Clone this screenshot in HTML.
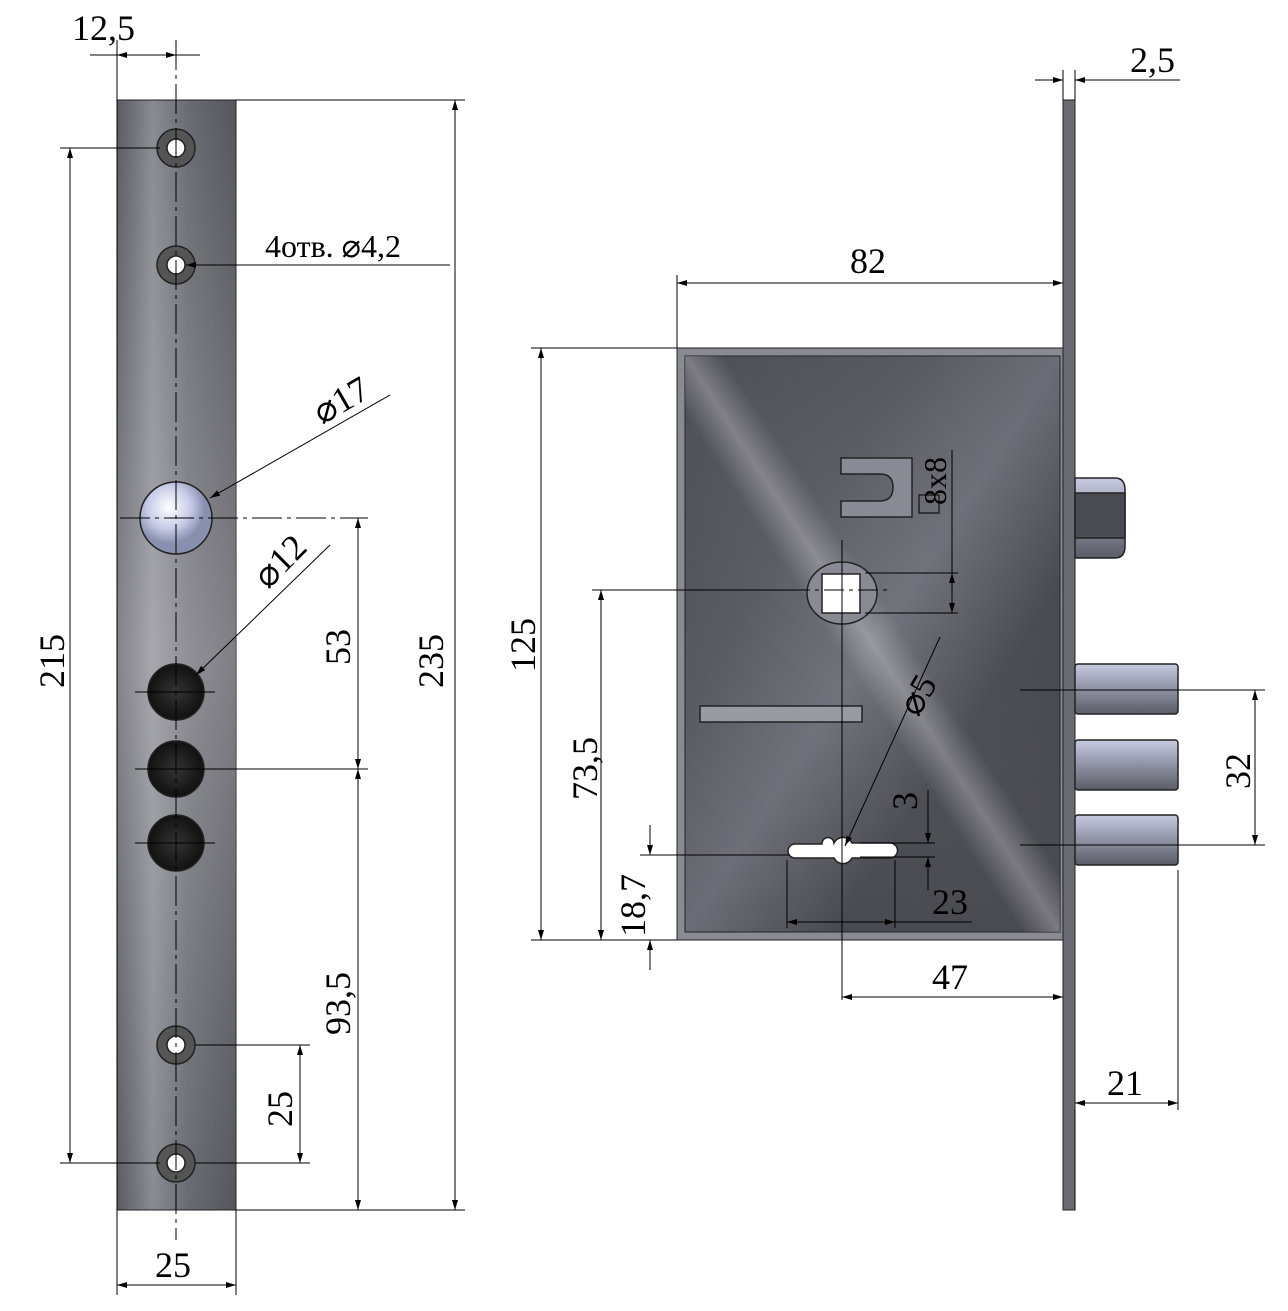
<!DOCTYPE html>
<html><head><meta charset="utf-8"><style>
html,body{margin:0;padding:0;background:#fff}
svg{display:block}
</style></head><body>
<svg width="1288" height="1311" viewBox="0 0 1288 1311" xmlns="http://www.w3.org/2000/svg">
<defs>
<linearGradient id="plate" x1="0" x2="1" y1="0" y2="0">
<stop offset="0" stop-color="#5a5a62"/><stop offset="0.3" stop-color="#8a8a92"/><stop offset="0.6" stop-color="#6a6a72"/><stop offset="1" stop-color="#55555c"/></linearGradient>
<linearGradient id="plateV" x1="0" x2="0" y1="0" y2="1">
<stop offset="0" stop-color="#fff" stop-opacity="0"/><stop offset="0.5" stop-color="#fff" stop-opacity="0.25"/><stop offset="1" stop-color="#fff" stop-opacity="0"/></linearGradient>
<linearGradient id="case" x1="0" y1="0" x2="1" y2="1">
<stop offset="0" stop-color="#44444c"/><stop offset="0.3" stop-color="#55555d"/><stop offset="0.5" stop-color="#6c6c76"/><stop offset="0.7" stop-color="#46464e"/><stop offset="1" stop-color="#404047"/></linearGradient>
<linearGradient id="case2" x1="1" y1="0" x2="0" y2="1">
<stop offset="0" stop-color="#fff" stop-opacity="0"/><stop offset="0.45" stop-color="#fff" stop-opacity="0.05"/><stop offset="0.5" stop-color="#fff" stop-opacity="0.3"/><stop offset="0.55" stop-color="#fff" stop-opacity="0.05"/><stop offset="1" stop-color="#fff" stop-opacity="0"/></linearGradient>
<linearGradient id="bolt" x1="0" x2="0" y1="0" y2="1">
<stop offset="0" stop-color="#c8cbe0"/><stop offset="0.4" stop-color="#9a9db0"/><stop offset="1" stop-color="#5a5c66"/></linearGradient>
<radialGradient id="dark"><stop offset="0" stop-color="#333"/><stop offset="1" stop-color="#111"/></radialGradient>
<radialGradient id="ball" cx="0.4" cy="0.35"><stop offset="0" stop-color="#fff"/><stop offset="0.6" stop-color="#c8cbe8"/><stop offset="1" stop-color="#8890b0"/></radialGradient>
<marker id="a" viewBox="0 0 10 6" refX="10" refY="3" markerWidth="14" markerHeight="6" orient="auto-start-reverse" markerUnits="userSpaceOnUse"><path d="M0,0L10,3L0,6z" fill="#000"/></marker>
</defs>

<rect x="117" y="100" width="119" height="1110" fill="url(#plate)" stroke="#222"/>
<rect x="117" y="100" width="119" height="1110" fill="url(#plateV)"/>
<g stroke="#222" stroke-width="1.5">
<circle cx="176" cy="148" r="19" fill="#555"/><circle cx="176" cy="148" r="9" fill="#fff"/>
<circle cx="176" cy="265" r="19" fill="#555"/><circle cx="176" cy="265" r="9" fill="#fff"/>
<circle cx="176" cy="1045" r="19" fill="#555"/><circle cx="176" cy="1045" r="9" fill="#fff"/>
<circle cx="176" cy="1163" r="19" fill="#555"/><circle cx="176" cy="1163" r="9" fill="#fff"/>
<circle cx="176" cy="518" r="36" fill="url(#ball)"/>
<circle cx="176" cy="692" r="28" fill="url(#dark)"/>
<circle cx="176" cy="769" r="28" fill="url(#dark)"/>
<circle cx="176" cy="843" r="28" fill="url(#dark)"/>
</g>
<g stroke="#000" stroke-width="1" fill="none">
<line x1="176" y1="40" x2="176" y2="1240" stroke-dasharray="30,5,4,5"/>
<line x1="117" y1="40" x2="117" y2="1295"/><line x1="236" y1="1210" x2="236" y2="1295"/>
<line x1="90" y1="55" x2="200" y2="55"/>
<line x1="117" y1="55" x2="176" y2="55" marker-start="url(#a)" marker-end="url(#a)"/>
<line x1="117" y1="1285" x2="236" y2="1285" marker-start="url(#a)" marker-end="url(#a)"/>
<line x1="236" y1="100" x2="465" y2="100"/><line x1="236" y1="1210" x2="465" y2="1210"/>
<line x1="455" y1="100" x2="455" y2="1210" marker-start="url(#a)" marker-end="url(#a)"/>
<line x1="60" y1="148" x2="160" y2="148"/><line x1="60" y1="1163" x2="160" y2="1163"/>
<line x1="70" y1="148" x2="70" y2="1163" marker-start="url(#a)" marker-end="url(#a)"/>
<line x1="120" y1="518" x2="368" y2="518" stroke-dasharray="30,5,4,5"/>
<line x1="135" y1="769" x2="368" y2="769"/>
<line x1="358" y1="518" x2="358" y2="769" marker-start="url(#a)" marker-end="url(#a)"/>
<line x1="358" y1="769" x2="358" y2="1210" marker-start="url(#a)" marker-end="url(#a)"/>
<line x1="195" y1="1045" x2="310" y2="1045"/><line x1="195" y1="1163" x2="310" y2="1163"/>
<line x1="300" y1="1045" x2="300" y2="1163" marker-start="url(#a)" marker-end="url(#a)"/>
<line x1="450" y1="265" x2="186" y2="265" marker-end="url(#a)"/>
<line x1="390" y1="395" x2="210" y2="498" marker-end="url(#a)"/>
<line x1="330" y1="545" x2="196" y2="675" marker-end="url(#a)"/>
<line x1="135" y1="692" x2="215" y2="692"/><line x1="135" y1="843" x2="215" y2="843"/>
</g>

<rect x="1063" y="100" width="12" height="1110" fill="#6a6a72" stroke="#222"/>
<g stroke="#222" stroke-width="1.5">
<path d="M1075 478H1115Q1125 478 1125 490V546Q1125 558 1115 558H1075Z" fill="url(#bolt)"/>
<rect x="1075" y="493" width="50" height="45" fill="#4a4a52"/>
<rect x="1075" y="664" width="103" height="50" rx="3" fill="url(#bolt)"/>
<rect x="1075" y="740" width="103" height="50" rx="3" fill="url(#bolt)"/>
<rect x="1075" y="815" width="103" height="50" rx="3" fill="url(#bolt)"/>
</g>
<rect x="677" y="348" width="386" height="592" fill="#8a8a92" stroke="#222"/>
<rect x="685" y="356" width="375" height="576" fill="url(#case)" stroke="#222"/>
<rect x="685" y="356" width="375" height="576" fill="url(#case2)"/>
<g stroke="#222" stroke-width="1.5">
<path d="M841 458H912V517H841V501H880Q893 501 893 487Q893 474 880 474H841Z" fill="#8a8a94"/>
<rect x="919" y="495" width="20" height="18" fill="none"/>
<ellipse cx="842" cy="593" rx="35" ry="31" fill="#8a8a94"/>
<rect x="822" y="574" width="38" height="39" fill="#fff"/>
<rect x="700" y="706" width="162" height="16" fill="#9a9aa2"/>
<path d="M795 844H822A6 6 0 0 1 834 843A10 10 0 0 1 852 843H890A7 7 0 0 1 890 858H852A10 10 0 0 1 834 858H795A7 7 0 0 1 795 844Z" fill="#fff"/>
</g>
<g stroke="#000" stroke-width="1" fill="none">
<line x1="677" y1="275" x2="677" y2="348"/>
<line x1="677" y1="283" x2="1063" y2="283" marker-start="url(#a)" marker-end="url(#a)"/>
<line x1="1063" y1="70" x2="1063" y2="100"/><line x1="1075" y1="70" x2="1075" y2="100"/>
<line x1="1035" y1="80" x2="1063" y2="80" marker-end="url(#a)"/>
<line x1="1180" y1="80" x2="1075" y2="80" marker-end="url(#a)"/>
<line x1="531" y1="348" x2="677" y2="348"/><line x1="531" y1="940" x2="677" y2="940"/>
<line x1="541" y1="348" x2="541" y2="940" marker-start="url(#a)" marker-end="url(#a)"/>
<line x1="592" y1="590" x2="790" y2="590"/>
<line x1="790" y1="590" x2="890" y2="590" stroke-dasharray="20,5,4,5"/>
<line x1="601" y1="590" x2="601" y2="940" marker-start="url(#a)" marker-end="url(#a)"/>
<line x1="640" y1="855" x2="790" y2="855"/>
<line x1="650" y1="825" x2="650" y2="855" marker-end="url(#a)"/>
<line x1="650" y1="970" x2="650" y2="940" marker-end="url(#a)"/>
<line x1="842" y1="540" x2="842" y2="1000"/>
<line x1="842" y1="997" x2="1063" y2="997" marker-start="url(#a)" marker-end="url(#a)"/>
<line x1="1075" y1="1210" x2="1075" y2="1110"/><line x1="1178" y1="870" x2="1178" y2="1110"/>
<line x1="1075" y1="1103" x2="1178" y2="1103" marker-start="url(#a)" marker-end="url(#a)"/>
<line x1="1020" y1="690" x2="1265" y2="690"/><line x1="1020" y1="845" x2="1265" y2="845"/>
<line x1="1255" y1="690" x2="1255" y2="845" marker-start="url(#a)" marker-end="url(#a)"/>
<line x1="952" y1="450" x2="952" y2="610"/>
<line x1="865" y1="573" x2="958" y2="573"/><line x1="865" y1="613" x2="958" y2="613"/>
<line x1="952" y1="573" x2="952" y2="613" marker-start="url(#a)" marker-end="url(#a)"/>
<line x1="940" y1="637" x2="845" y2="846" marker-end="url(#a)"/>
<line x1="860" y1="843" x2="935" y2="843"/><line x1="860" y1="857" x2="935" y2="857"/>
<line x1="928" y1="790" x2="928" y2="843" marker-end="url(#a)"/>
<line x1="928" y1="890" x2="928" y2="857" marker-end="url(#a)"/>
<line x1="787" y1="860" x2="787" y2="928"/><line x1="895" y1="860" x2="895" y2="928"/>
<line x1="787" y1="922" x2="895" y2="922" marker-start="url(#a)" marker-end="url(#a)"/>
<line x1="895" y1="922" x2="972" y2="922"/>
</g>

<g font-family="Liberation Serif, DejaVu Serif, serif" font-size="36" fill="#000">
<text x="72" y="40">12,5</text>
<text x="265" y="257" font-size="32">4отв. ⌀4,2</text>
<text transform="translate(322,425) rotate(-30)">⌀17</text>
<text transform="translate(268,590) rotate(-45)">⌀12</text>
<text transform="translate(64,688) rotate(-90)">215</text>
<text transform="translate(443,688) rotate(-90)">235</text>
<text transform="translate(350,665) rotate(-90)">53</text>
<text transform="translate(350,1035) rotate(-90)">93,5</text>
<text transform="translate(292,1127) rotate(-90)">25</text>
<text x="155" y="1277">25</text>
<text x="850" y="273">82</text>
<text x="1130" y="72">2,5</text>
<text transform="translate(535,672) rotate(-90)">125</text>
<text transform="translate(597,800) rotate(-90)">73,5</text>
<text transform="translate(645,937) rotate(-90)">18,7</text>
<text transform="translate(946,505) rotate(-90)" font-size="32">8x8</text>
<text transform="translate(918,718) rotate(-60)">⌀5</text>
<text transform="translate(917,810) rotate(-90)">3</text>
<text x="932" y="914">23</text>
<text x="932" y="989">47</text>
<text x="1107" y="1095">21</text>
<text transform="translate(1250,789) rotate(-90)">32</text>
</g>
</svg>
</body></html>
